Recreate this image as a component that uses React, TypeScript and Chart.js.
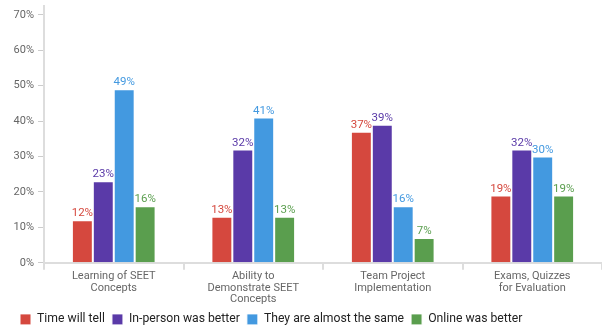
import React, { useEffect, useRef } from "react";
import { Chart, registerables } from "chart.js";

Chart.register(...registerables);

const categories: string[][] = [
  ["Learning of SEET", "Concepts"],
  ["Ability to", "Demonstrate SEET", "Concepts"],
  ["Team Project", "Implementation"],
  ["Exams, Quizzes", "for Evaluation"],
];
const seriesNames = ["Time will tell", "In-person was better", "They are almost the same", "Online was better"];
const timeWillTell = [12, 13, 37, 19];
const inPersonBetter = [23, 32, 39, 32];
const almostSame = [49, 41, 16, 30];
const onlineBetter = [16, 13, 7, 19];
const colors = ["#D5483E", "#5A3AA8", "#4399E0", "#5A9E4E"];
const yTicks = [0, 10, 20, 30, 40, 50, 60, 70];

const FONT = "Roboto, sans-serif";

const labelPlugin = {
  id: "barLabels",
  afterLayout(chart: any) {
    const x = chart.scales.x;
    if (x) x.bottom = chart.height;
  },
  afterDatasetsDraw(chart: any) {
    const ctx = chart.ctx;
    ctx.save();
    ctx.font = `11.5px ${FONT}`;
    ctx.textAlign = "center";
    ctx.textBaseline = "bottom";
    chart.data.datasets.forEach((ds: any, i: number) => {
      const meta = chart.getDatasetMeta(i);
      meta.data.forEach((bar: any, j: number) => {
        ctx.fillStyle = ds.backgroundColor;
        ctx.fillText(`${ds.data[j]}%`, bar.x, bar.y - 1);
      });
    });
    ctx.restore();
  },
};

export default function App() {
  const ref = useRef<HTMLCanvasElement>(null);
  useEffect(() => {
    document.body.style.margin = "0";
    const all = [timeWillTell, inPersonBetter, almostSame, onlineBetter];
    const chart = new Chart(ref.current!, {
      type: "bar",
      data: {
        labels: categories as any,
        datasets: all.map((d, i) => ({
          label: seriesNames[i],
          data: d,
          backgroundColor: colors[i],
          borderColor: "#ffffff",
          borderWidth: 1,
          borderSkipped: "bottom",
          categoryPercentage: 0.6,
          barPercentage: 1.0,
        })),
      },
      options: {
        animation: false,
        responsive: false,
        layout: { padding: { left: 13, right: 0, top: 0, bottom: -6.5 } },
        plugins: {
          tooltip: { enabled: false },
          legend: {
            position: "bottom",
            align: "start",
            labels: {
              boxWidth: 11,
              boxHeight: 11,
              padding: 7,
              color: "#222",
              font: { family: FONT, size: 12.2 },
            },
          },
        },
        scales: {
          x: {
            afterFit(scale: any) {
              scale.height = 43.5;
            },
            grid: { drawOnChartArea: false, offset: true, tickLength: 7, color: "#dddddd", lineWidth: 2 },
            border: { color: "#dddddd", width: 2 },
            ticks: {
              color: "#666",
              font: { family: FONT, size: 11, lineHeight: 1.03 },
              padding: 1,
              maxRotation: 0,
            },
          },
          y: {
            min: 0,
            max: 72.5,
            afterFit(scale: any) {
              scale.width = 31;
              scale.paddingTop = 6;
            },
            afterBuildTicks(scale: any) {
              scale.ticks = yTicks.map((v) => ({ value: v }));
            },
            grid: { drawOnChartArea: false, tickLength: 6, color: "#cccccc" },
            border: { color: "#dddddd", width: 2 },
            ticks: {
              color: "#666",
              font: { family: FONT, size: 11 },
              padding: 4,
              callback: (v: any) => `${v}%`,
            },
          },
        },
      },
      plugins: [labelPlugin],
    } as any);
    return () => chart.destroy();
  }, []);
  return <canvas ref={ref} width={602} height={329} style={{ display: "block" }} />;
}
